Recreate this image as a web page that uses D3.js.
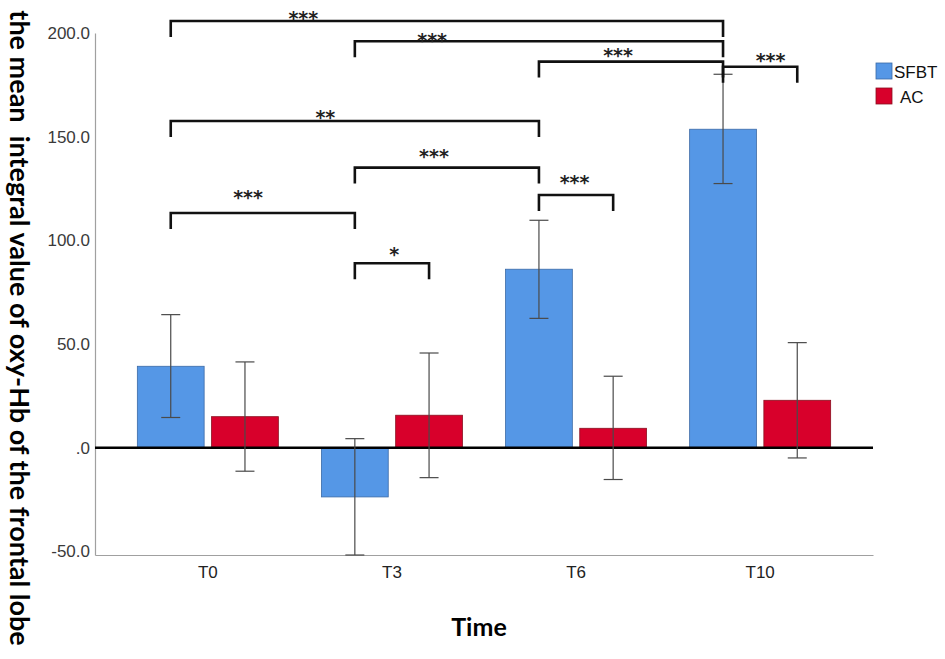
<!DOCTYPE html>
<html><head><meta charset="utf-8">
<script src="https://cdn.jsdelivr.net/npm/d3@7"></script>
<style>body{margin:0;background:#fff}svg{display:block}</style>
</head><body>
<svg id="c" width="945" height="659"></svg>
<script>
// ---- data ----
const categories = ["T0", "T3", "T6", "T10"];
const seriesNames = ["SFBT", "AC"];
const sfbtMean = [39.3, -23.7, 86.1, 153.6];
const sfbtLow  = [14.6, -51.7, 62.4, 127.4];
const sfbtHigh = [64.2, 4.4, 109.7, 180.1];
const acMean   = [15.0, 15.7, 9.4, 22.9];
const acLow    = [-11.3, -14.4, -15.3, -4.9];
const acHigh   = [41.4, 45.7, 34.5, 50.7];
const yTicks   = [-50, 0, 50, 100, 150, 200];
const yTickLabels = ["-50.0", ".0", "50.0", "100.0", "150.0", "200.0"];
// significance brackets
const bracketFrom  = [["T0","SFBT"],["T3","SFBT"],["T6","SFBT"],["T10","SFBT"],["T0","SFBT"],["T3","SFBT"],["T0","SFBT"],["T6","SFBT"],["T3","SFBT"]];
const bracketTo    = [["T10","SFBT"],["T10","SFBT"],["T10","SFBT"],["T10","AC"],["T6","SFBT"],["T6","SFBT"],["T3","SFBT"],["T6","AC"],["T3","AC"]];
const bracketLevel = [205.8, 196.0, 186.2, 183.7, 157.6, 135.1, 113.2, 121.9, 89.0];
const bracketLabel = ["***","***","***","***","**","***","***","***","*"];
const bracketLabelFrac  = [0.24, 0.21, 0.43, 0.64, 0.42, 0.43, 0.42, 0.48, 0.53];
const bracketLabelLevel = [209.2, 198.5, 191.5, 189.1, 161.6, 142.8, 122.7, 130.1, 95.4];

const colors = {SFBT: "#5597e6", AC: "#d8002b"};
const strokes = {SFBT: "#3b6aa6", AC: "#8a1020"};

const svg = d3.select("#c");
const x0 = d3.scaleBand().domain(categories).range([95, 873]).paddingInner(0.234).paddingOuter(0.23);
const x1 = d3.scaleBand().domain(seriesNames).range([0, x0.bandwidth()]).paddingInner(0.1);
const y = d3.scaleLinear().domain([-51.7, 200]).range([555, 33]);

const rows = [];
categories.forEach((c, i) => {
  rows.push({cat: c, s: "SFBT", v: sfbtMean[i], lo: sfbtLow[i], hi: sfbtHigh[i]});
  rows.push({cat: c, s: "AC", v: acMean[i], lo: acLow[i], hi: acHigh[i]});
});
const cx = (c, s) => x0(c) + x1(s) + x1.bandwidth() / 2;

// axes
const yAxis = d3.axisLeft(y).tickValues(yTicks).tickFormat((d, i) => yTickLabels[i]).tickSize(0).tickPadding(5);
const gy = svg.append("g").attr("transform", "translate(95,0)").call(yAxis);
gy.select(".domain").attr("stroke", "#a0a0a0").attr("stroke-width", 1.2);
gy.selectAll("text").attr("font-family", "Liberation Sans, Arial, sans-serif").attr("font-size", 17).attr("fill", "#3a3a3a").attr("dy", "0.32em");

const xAxis = d3.axisBottom(x0).tickSize(0).tickPadding(11);
const gx = svg.append("g").attr("transform", `translate(0,${y(-51.7)})`).call(xAxis);
gx.select(".domain").attr("stroke", "#a0a0a0").attr("stroke-width", 1.2);
gx.selectAll("text").attr("font-family", "Liberation Sans, Arial, sans-serif").attr("font-size", 17).attr("fill", "#222");

// bars
svg.append("g").selectAll("rect").data(rows).join("rect")
  .attr("x", d => x0(d.cat) + x1(d.s))
  .attr("width", x1.bandwidth())
  .attr("y", d => y(Math.max(0, d.v)))
  .attr("height", d => Math.abs(y(d.v) - y(0)))
  .attr("fill", d => colors[d.s])
  .attr("stroke", d => strokes[d.s]).attr("stroke-width", 0.8);

// zero line
svg.append("line").attr("x1", 95).attr("x2", 873).attr("y1", y(0)).attr("y2", y(0))
  .attr("stroke", "#000").attr("stroke-width", 2.6);

// error bars
const eb = svg.append("g").attr("stroke", "#4a4a4a").attr("stroke-width", 1.2).attr("fill", "none");
rows.forEach(d => {
  const x = cx(d.cat, d.s);
  eb.append("line").attr("x1", x).attr("x2", x).attr("y1", y(d.lo)).attr("y2", y(d.hi));
  eb.append("line").attr("x1", x - 9.5).attr("x2", x + 9.5).attr("y1", y(d.lo)).attr("y2", y(d.lo));
  eb.append("line").attr("x1", x - 9.5).attr("x2", x + 9.5).attr("y1", y(d.hi)).attr("y2", y(d.hi));
});

// brackets
const bg = svg.append("g");
bracketLevel.forEach((lv, i) => {
  const xa = cx(bracketFrom[i][0], bracketFrom[i][1]);
  const xb = cx(bracketTo[i][0], bracketTo[i][1]);
  const yy = y(lv);
  bg.append("path").attr("d", `M${xa},${yy + 16}V${yy}H${xb}V${yy + 16}`)
    .attr("fill", "none").attr("stroke", "#111").attr("stroke-width", 2.6);
  bg.append("text").attr("x", xa + (xb - xa) * bracketLabelFrac[i]).attr("y", y(bracketLabelLevel[i]) + 11)
    .attr("text-anchor", "middle").attr("font-family", "DejaVu Sans, sans-serif")
    .attr("font-weight", "bold").attr("font-size", 19).attr("fill", "#222").text(bracketLabel[i]);
});

// legend
const lg = svg.append("g").attr("transform", "translate(876,63)");
seriesNames.forEach((s, i) => {
  lg.append("rect").attr("x", 0).attr("y", i * 25).attr("width", 16).attr("height", 16)
    .attr("fill", colors[s]).attr("stroke", strokes[s]).attr("stroke-width", 0.8);
  lg.append("text").attr("x", s === "AC" ? 24 : 18).attr("y", i * 25 + 9).attr("dy", "0.35em")
    .attr("font-family", "Liberation Sans, Arial, sans-serif").attr("font-size", 17).attr("fill", "#111").text(s);
});

// axis titles
svg.append("text").attr("x", 479).attr("y", 627).attr("dy", "0.35em").attr("text-anchor", "middle")
  .attr("font-family", "Lato, sans-serif").attr("font-weight", "bold").attr("font-size", 25).attr("fill", "#000").text("Time");
svg.append("text").attr("transform", "translate(19,328) rotate(90)").attr("dy", "0.35em").attr("text-anchor", "middle")
  .attr("font-family", "Lato, sans-serif").attr("font-weight", "bold").attr("font-size", 27).attr("fill", "#000")
  .attr("xml:space", "preserve").style("white-space", "pre")
  .text("the mean  integral value of oxy-Hb of the frontal lobe");
</script>
</body></html>
